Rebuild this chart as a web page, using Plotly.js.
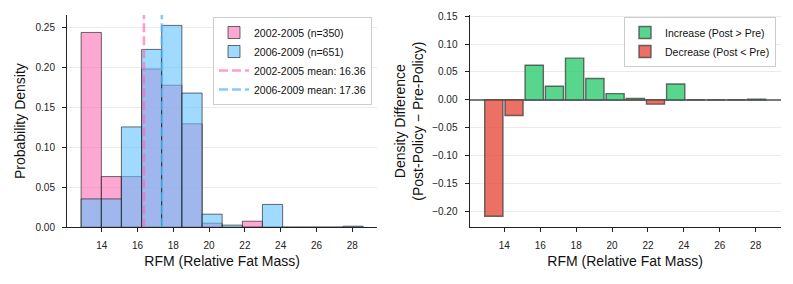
<!DOCTYPE html>
<html><head><meta charset="utf-8">
<script src="https://cdn.plot.ly/plotly-3.0.1.min.js"></script>
<style>html,body{margin:0;padding:0;background:#fff;} #chart{width:793px;height:284px;}</style>
</head><body><div id="chart"></div>
<script>
// ---- data ----
const binEdges = [12.85, 13.98, 15.10, 16.23, 17.35, 18.48, 19.61, 20.73, 21.86, 22.98, 24.11, 25.24, 26.36, 27.49, 28.61];
const preName = '2002-2005 (n=350)';
const postName = '2006-2009 (n=651)';
const preDensity  = [0.2436, 0.0634, 0.0634, 0.1979, 0.1776, 0.1294, 0.0051, 0, 0.0076, 0, 0, 0, 0, 0];
const postDensity = [0.0355, 0.0355, 0.1255, 0.2224, 0.2524, 0.1678, 0.0164, 0.0027, 0, 0.0286, 0, 0, 0, 0.0014];
const meanNames = ['2002-2005 mean: 16.36', '2006-2009 mean: 17.36'];
const meanValues = [16.36, 17.36];
const densityDiff = [-0.2081, -0.0279, 0.0621, 0.0245, 0.0748, 0.0384, 0.0113, 0.0027, -0.0076, 0.0286, 0, 0, 0, 0.0014];
const diffNames = ['Increase (Post > Pre)', 'Decrease (Post < Pre)'];
const xTickVals = [14, 16, 18, 20, 22, 24, 26, 28];
const xTitle = 'RFM (Relative Fat Mass)';
const yTitleLeft = 'Probability Density';
const yTitleRight = 'Density Difference<br>(Post-Policy − Pre-Policy)';

// ---- derived ----
const centers = binEdges.slice(0, -1).map((e, i) => (e + binEdges[i + 1]) / 2);
const widths = binEdges.slice(0, -1).map((e, i) => binEdges[i + 1] - e);
const yLeftRange = [0, 0.2654];
const yRightRange = [-0.228, 0.152];

const FONT = 'Liberation Sans, Arial, Helvetica, sans-serif';
const edge = 'rgba(30,30,30,0.65)';
const titleFont = {family: FONT, size: 14, color: '#111'};

const traces = [
  {type: 'bar', x: centers, y: preDensity, width: widths, name: preName,
   marker: {color: 'rgba(252,105,178,0.58)', line: {color: edge, width: 1}},
   xaxis: 'x', yaxis: 'y', legend: 'legend'},
  {type: 'bar', x: centers, y: postDensity, width: widths, name: postName,
   marker: {color: 'rgba(97,193,253,0.6)', line: {color: edge, width: 1}},
   xaxis: 'x', yaxis: 'y', legend: 'legend'},
  {type: 'scatter', mode: 'lines', x: [meanValues[0], meanValues[0]], y: yLeftRange, name: meanNames[0],
   line: {color: 'rgba(255,105,180,0.65)', width: 2.6, dash: '9px,4px'}, xaxis: 'x', yaxis: 'y', legend: 'legend'},
  {type: 'scatter', mode: 'lines', x: [meanValues[1], meanValues[1]], y: yLeftRange, name: meanNames[1],
   line: {color: 'rgba(90,185,245,0.75)', width: 2.6, dash: '9px,4px'}, xaxis: 'x', yaxis: 'y', legend: 'legend'},
  {type: 'bar', x: centers, y: densityDiff.map(v => v >= 0 ? v : null), width: widths.map(w => w * 0.9), name: diffNames[0],
   marker: {color: 'rgba(46,204,113,0.8)', line: {color: 'rgba(60,60,60,0.75)', width: 1.4}},
   xaxis: 'x2', yaxis: 'y2', legend: 'legend2'},
  {type: 'bar', x: centers, y: densityDiff.map(v => v < 0 ? v : null), width: widths.map(w => w * 0.9), name: diffNames[1],
   marker: {color: 'rgba(231,76,60,0.8)', line: {color: 'rgba(60,60,60,0.75)', width: 1.4}},
   xaxis: 'x2', yaxis: 'y2', legend: 'legend2'}
];

const axisCommon = {
  ticks: 'outside', ticklen: 4, tickwidth: 1, tickcolor: '#222',
  showline: true, linecolor: '#222', linewidth: 1,
  tickfont: {family: FONT, size: 10, color: '#222'},
  automargin: false
};
const yDomain = [(284 - 227.3) / 284, (284 - 15) / 284];

const layout = {
  width: 793, height: 284,
  margin: {l: 0, r: 0, t: 0, b: 0},
  paper_bgcolor: '#fff', plot_bgcolor: '#fff',
  font: {family: FONT, color: '#111'},
  barmode: 'overlay',
  showlegend: true,
  xaxis: Object.assign({}, axisCommon, {
    domain: [67 / 793, 377.3 / 793], range: [12.06, 29.40], tickvals: xTickVals,
    showgrid: false, zeroline: false, anchor: 'y', ticklabelstandoff: 5,
    title: {text: xTitle, font: titleFont, standoff: 5}
  }),
  yaxis: Object.assign({}, axisCommon, {
    domain: yDomain, range: yLeftRange, dtick: 0.05, tick0: 0, tickformat: '.2f',
    showgrid: true, gridcolor: '#ebebeb', gridwidth: 1, zeroline: false, anchor: 'x', ticklabelstandoff: 5,
    title: {text: yTitleLeft, font: titleFont, standoff: 6}
  }),
  xaxis2: Object.assign({}, axisCommon, {
    domain: [469.5 / 793, 780.8 / 793], range: [12.06, 29.40], tickvals: xTickVals,
    showgrid: false, zeroline: false, anchor: 'y2', ticklabelstandoff: 5,
    title: {text: xTitle, font: titleFont, standoff: 5}
  }),
  yaxis2: Object.assign({}, axisCommon, {
    domain: yDomain, range: yRightRange, dtick: 0.05, tick0: 0, tickformat: '.2f',
    showgrid: true, gridcolor: '#ebebeb', gridwidth: 1,
    zeroline: true, zerolinecolor: '#7a7a7a', zerolinewidth: 1.5, anchor: 'x2', ticklabelstandoff: 5,
    title: {text: yTitleRight, font: titleFont, standoff: 5}
  }),
  legend: {
    x: 372 / 793, y: (284 - 17) / 284, xanchor: 'right', yanchor: 'top',
    bgcolor: 'rgba(255,255,255,0.85)', bordercolor: '#cccccc', borderwidth: 1,
    font: {family: FONT, size: 10.5, color: '#111'}, traceorder: 'normal', tracegroupgap: 0
  },
  legend2: {
    x: 776 / 793, y: (284 - 17) / 284, xanchor: 'right', yanchor: 'top',
    bgcolor: 'rgba(255,255,255,0.85)', bordercolor: '#cccccc', borderwidth: 1,
    font: {family: FONT, size: 10.5, color: '#111'}, traceorder: 'normal'
  }
};

Plotly.newPlot('chart', traces, layout, {displayModeBar: false, staticPlot: true});
</script>
</body></html>
